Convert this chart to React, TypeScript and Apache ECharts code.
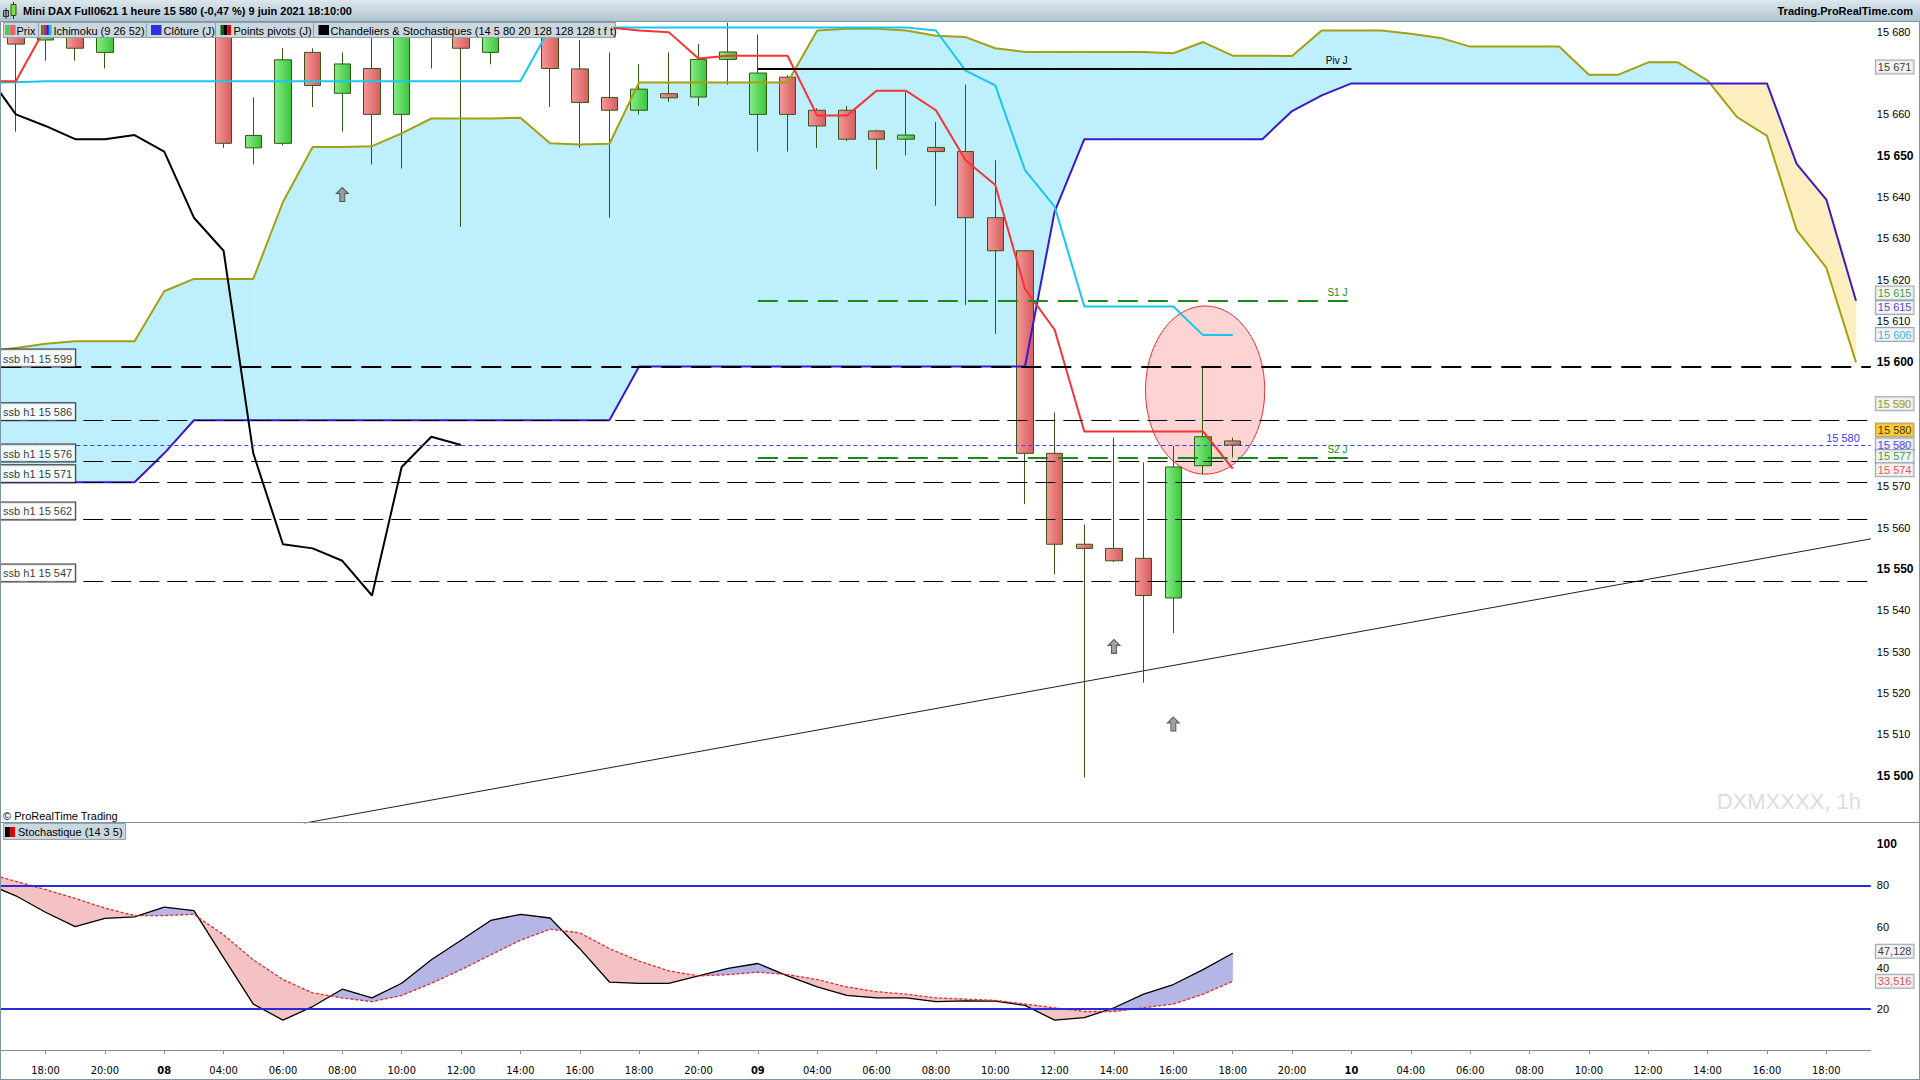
import React, { useEffect, useRef } from 'react';
import * as echarts from 'echarts';

// ---------- categories (hourly bars) ----------
const DAYS = ['07', '08', '09', '10'];
const DAY_HOURS = [
  [16, 17, 18, 19, 20, 21],
  [2, 3, 4, 5, 6, 7, 8, 9, 10, 11, 12, 13, 14, 15, 16, 17, 18, 19, 20, 21],
  [2, 3, 4, 5, 6, 7, 8, 9, 10, 11, 12, 13, 14, 15, 16, 17, 18, 19, 20, 21],
  [2, 3, 4, 5, 6, 7, 8, 9, 10, 11, 12, 13, 14, 15, 16, 17, 18, 19],
];
const CATEGORIES: string[] = [];
DAYS.forEach((d, k) => DAY_HOURS[k].forEach((h) => CATEGORIES.push(`${d} ${String(h).padStart(2, '0')}:00`)));

// ---------- candles [open, close, low, high], from bar index 1 ----------
const CANDLES: number[][] = [
  [15690, 15677, 15655.8, 15694],
  [15678, 15688, 15673, 15692],
  [15690, 15676, 15673, 15693],
  [15675, 15690, 15671.1, 15695],
  [15692, 15697, 15686, 15700],
  [15697, 15693, 15687, 15702],
  [15693, 15688, 15684, 15698],
  [15688, 15653, 15651.9, 15690],
  [15651.9, 15654.9, 15647.9, 15664.1],
  [15653, 15673.2, 15652.5, 15676],
  [15675, 15667, 15661.8, 15676],
  [15665.1, 15672.2, 15655.8, 15675],
  [15671.1, 15660, 15647.9, 15679],
  [15660, 15681, 15646.9, 15684],
  [15686, 15680, 15671.1, 15690],
  [15682, 15676, 15632.8, 15685],
  [15675, 15681, 15672.1, 15684],
  [15681, 15685, 15679.5, 15688],
  [15683, 15671.1, 15661.8, 15686],
  [15671, 15662.9, 15651.9, 15678],
  [15664.1, 15661, 15635, 15675],
  [15661, 15666.1, 15660, 15672.2],
  [15665, 15664, 15663, 15675],
  [15664.2, 15673.3, 15662, 15677],
  [15673.3, 15675.1, 15667.2, 15682.2],
  [15660, 15670, 15651, 15679.3],
  [15669, 15660, 15651, 15669.5],
  [15661, 15657.2, 15651.9, 15661.5],
  [15661, 15654, 15653.5, 15662],
  [15656, 15654, 15646.7, 15656.3],
  [15654, 15655, 15650.1, 15665.4],
  [15652, 15651, 15637.9, 15658.2],
  [15651, 15635, 15613.9, 15667.2],
  [15635, 15627, 15606.9, 15648.9],
  [15627, 15578, 15565.7, 15627.2],
  [15578, 15556, 15548.7, 15587.9],
  [15556, 15555, 15499.6, 15560.7],
  [15555, 15552, 15551.7, 15581.8],
  [15552.6, 15543.6, 15522.5, 15575.8],
  [15543, 15574.7, 15534.5, 15579.8],
  [15575, 15582, 15572.9, 15598.8],
  [15581, 15580, 15577, 15581.8],
];

// ---------- Ichimoku (9 26 52), from bar index 0 ----------
const TENKAN = [
  15668, 15668,
  15681, 15681, 15681, 15681, 15681, 15681, 15681, 15681, 15681, 15681,
  15681, 15681, 15681, 15681, 15681, 15681, 15681, 15681, 15681, 15681,
  15680.3, 15679.9, 15673.5, 15674.2, 15674.2, 15674.2, 15659.7, 15659.7, 15665.7, 15665.7,
  15661, 15648.9, 15642.9, 15617.8, 15607.9, 15583.3, 15583.3, 15583.3, 15583.3, 15583.3, 15574.3,
];
const KIJUN = [
  15667.6, 15667.8, 15668, 15668, 15668, 15668, 15668, 15668, 15668, 15668,
  15668, 15668, 15668, 15668, 15668, 15668, 15668, 15668, 15668,
  15681, 15681, 15681, 15681, 15681, 15681, 15681, 15681, 15681, 15681, 15681, 15681, 15681,
  15680.3, 15670.6, 15667, 15646.5, 15637.7, 15613.5, 15613.5, 15613.5, 15613.5, 15606.6, 15606.6,
];
const SSA = [
  15602.5, 15603.5, 15604.5, 15605.1, 15605.1, 15605.1, 15617.2, 15620.2, 15620.2, 15620.2,
  15638.8, 15652.1, 15652.1, 15652.3, 15655.4, 15659, 15659, 15659, 15659.2, 15653,
  15652.7, 15652.9, 15667.7, 15667.7, 15667.7, 15667.7, 15667.7, 15667.7, 15680.3, 15680.7,
  15680.7, 15680.3, 15679, 15678.7, 15676, 15675.1, 15675.1, 15675.1, 15675.1, 15675.1,
  15674.8, 15677.5, 15674.2, 15674.2, 15674.1, 15680.3, 15680.3, 15680.3, 15679.5, 15678.5,
  15676.4, 15676.4, 15676.4, 15676.4, 15669.6, 15669.6, 15672.6, 15672.6, 15668.2, 15659.3,
  15654.8, 15632, 15622.9, 15600,
];
const SSB = [
  15571, 15571, 15571, 15571, 15571, 15571, 15578,
  15586, 15586, 15586, 15586, 15586, 15586, 15586, 15586, 15586, 15586, 15586, 15586, 15586, 15586, 15586,
  15599, 15599, 15599, 15599, 15599, 15599, 15599, 15599, 15599, 15599, 15599, 15599, 15599, 15599,
  15636.5, 15654, 15654, 15654, 15654, 15654, 15654, 15654, 15660.8, 15664.6,
  15667.5, 15667.5, 15667.5, 15667.5, 15667.5, 15667.5, 15667.5, 15667.5, 15667.5, 15667.5,
  15667.5, 15667.5, 15667.5, 15667.5, 15667.5,
  15648, 15639.4, 15614.9,
];
const CHIKOU = [
  15670, 15660, 15657.2, 15654, 15654, 15655, 15651, 15635, 15627, 15578,
  15556, 15555, 15552, 15543.6, 15574.7, 15582, 15580,
];

// ---------- levels ----------
const SSB_LEVELS = [15599, 15586, 15576, 15571, 15562, 15547];
const DAILY_CLOSE = 15580;
const PIVOTS = [
  { name: 'Piv J', value: 15671, color: '#000000', dashed: false },
  { name: 'S1 J', value: 15615, color: '#1a8a1a', dashed: true },
  { name: 'S2 J', value: 15577, color: '#1a8a1a', dashed: true },
];
const PIVOT_RANGE = [26, 46];
const TREND_LINE = [[10.7, 15488.5], [63.5, 15557.3]];
const ARROWS = [[12, 15640.6], [38, 15531.3], [40, 15512.5]];
const HIGHLIGHT = { center: [41.07, 15593.3], rx: 2.01, ry: 20.35 };

const RIGHT_TAGS = [
  { value: 15671, color: '#000000', bg: '#f0f0f0', dy: -2 },
  { value: 15615, color: '#0a8a0a', bg: '#f0f0f0', dy: -7.5 },
  { value: 15615, color: '#2a10c8', bg: '#f0f0f0', dy: 7 },
  { value: 15606, color: '#00a0e0', bg: '#f0f0f0', dy: -3 },
  { value: 15590, color: '#9a9a00', bg: '#f0f0f0', dy: 0 },
  { value: 15580, color: '#000000', bg: '#ffc000', dy: -15 },
  { value: 15580, color: '#3030ff', bg: '#f0f0f0', dy: 0 },
  { value: 15577, color: '#0a8a0a', bg: '#f0f0f0', dy: -1 },
  { value: 15574, color: '#ff2020', bg: '#f0f0f0', dy: 0 },
];
// axis labels hidden by the tag boxes in the reference
const COVERED_LABELS = [15670];

// ---------- stochastic (14 3 5), from bar index 0 ----------
const STOCH_K = [
  81, 75, 67, 60, 64, 64.8, 69.5, 67.8, 45, 22.4,
  14.6, 21.2, 29.6, 25.4, 32.5, 43.9, 53.4, 63, 66, 64.2,
  49.3, 33.1, 32.5, 32.5, 36.1, 39.7, 42.1, 36.1, 30.7, 26.6,
  25.4, 25.4, 23.6, 24.0, 23.8, 21.8, 14.6, 15.8, 20.6, 27.2,
  31.9, 39.1, 47.1,
];
const STOCH_D = [
  86, 82, 78, 73.7, 69, 65.4, 65.4, 66, 56, 43.9,
  34.3, 27.8, 25.4, 23.6, 26.6, 32.5, 39.1, 46.3, 53.4, 58.8,
  57, 49.3, 43.3, 38.5, 36.1, 36.7, 37.9, 36.7, 34.3, 30.7,
  28.4, 27.2, 25.4, 24.8, 24.2, 22.4, 20.6, 18.8, 18.8, 20.6,
  22.4, 27.2, 33.5,
];
const STOCH_LEVELS = [80, 20];
const STOCH_TAGS = [
  { value: 47.128, text: '47,128', color: '#000000', dy: -2 },
  { value: 33.516, text: '33,516', color: '#e02020', dy: 0 },
];

// ---------- layout ----------
const N = CATEGORIES.length;
const BAND = 29.68;
const GRID_LEFT = 1 - BAND;
const GRID_WIDTH = N * BAND;
const PRICE_MAX = 15682.35;
const PRICE_MIN = 15488.56;
const STOCH_MAX = 110.35;
const STOCH_MIN = -4.28;
const FONT = "'Liberation Sans', Arial, Helvetica, sans-serif";
const NARROW = "'Liberation Sans Narrow', 'DejaVu Sans Condensed', 'Liberation Sans', sans-serif";
const FRAME = '#7f93a3';

const fmtK = (n: number) => {
  const r = Math.round(n);
  const k = Math.floor(r / 1000);
  return `${k} ${String(r - k * 1000).padStart(3, '0')}`;
};

const pad = (arr: (number | null)[], start: number) => {
  const out: (number | null)[] = [];
  for (let j = 0; j < N; j++) {
    const v = arr[j - start];
    out.push(v === undefined ? null : v);
  }
  return out;
};

function bandRenderer(up: string, down: string) {
  return (params: any, api: any) => {
    const j = api.value(0);
    const a0 = api.value(1), b0 = api.value(2), a1 = api.value(3), b1 = api.value(4);
    const pa0 = api.coord([j, a0]);
    const pb0 = api.coord([j, b0]);
    const pa1 = api.coord([j + 1, a1]);
    const pb1 = api.coord([j + 1, b1]);
    const d0 = a0 - b0;
    const d1 = a1 - b1;
    const poly = (pts: number[][], isUp: boolean) => ({
      type: 'polygon',
      shape: { points: pts },
      style: { fill: isUp ? up : down, stroke: isUp ? up : down, lineWidth: 0.6 },
    });
    const children: any[] = [];
    if (d0 * d1 >= 0) {
      children.push(poly([pa0, pa1, pb1, pb0], d0 + d1 >= 0));
    } else {
      const t = d0 / (d0 - d1);
      const pc = [pa0[0] + t * (pa1[0] - pa0[0]), pa0[1] + t * (pa1[1] - pa0[1])];
      children.push(poly([pa0, pc, pb0], d0 > 0));
      children.push(poly([pc, pa1, pb1], d1 > 0));
    }
    return { type: 'group', children };
  };
}

function pairData(a: (number | null)[], b: (number | null)[]) {
  const out: number[][] = [];
  for (let j = 0; j < Math.min(a.length, b.length) - 1; j++) {
    if (a[j] == null || b[j] == null || a[j + 1] == null || b[j + 1] == null) continue;
    out.push([j, a[j] as number, b[j] as number, a[j + 1] as number, b[j + 1] as number]);
  }
  return out;
}

function buildOption() {
  const candleData = pad(CANDLES as any, 1).map((c: any) => (c ? c : '-'));
  const hourOf = (v: string) => parseInt(v.split(' ')[1], 10);
  const showCat = (idx: number, v: string) => idx > 0 && hourOf(v) % 2 === 0;

  const gradBull = {
    type: 'linear', x: 0, y: 0, x2: 1, y2: 0,
    colorStops: [{ offset: 0, color: '#86ec86' }, { offset: 1, color: '#3cc53c' }],
  };
  const gradBear = {
    type: 'linear', x: 0, y: 0, x2: 1, y2: 0,
    colorStops: [{ offset: 0, color: '#f59898' }, { offset: 1, color: '#d65e5e' }],
  };

  const lineSeries = (name: string, data: any[], color: string, width = 2) => ({
    type: 'line', name, xAxisIndex: 0, yAxisIndex: 0, data, symbol: 'none', z: 4,
    lineStyle: { color, width }, itemStyle: { color }, connectNulls: false, clip: true, silent: true,
  });

  const tagLabelBase = {
    show: true, fontSize: 11, fontFamily: FONT, lineHeight: 12, padding: [1, 2, 0, 2],
    borderColor: FRAME, borderWidth: 1,
  };

  const legendItems = [
    { x: 3, w: 35, iconX: 5, textX: 16.5, text: 'Prix', icons: ['#52cc52', '#e26464'] },
    { x: 38, w: 108, iconX: 41, textX: 53.5, text: 'Ichimoku (9 26 52)', icons: ['#7a6a10', '#e02020', '#2020e0', '#10b8e8'] },
    { x: 146, w: 69, iconX: 151, textX: 163.5, text: 'Clôture (J)', icons: ['#3030e0'] },
    { x: 215, w: 98, iconX: 220.5, textX: 233.5, text: 'Points pivots (J)', icons: ['#106010', '#000000', '#e00000'] },
    { x: 313, w: 302, iconX: 318.5, textX: 330.5, text: 'Chandeliers & Stochastiques (14 5 80 20 128 128 128 t f t)', icons: ['#000000'] },
  ];

  const graphic: any[] = [];
  // title bar
  graphic.push({
    type: 'rect', z: 100, shape: { x: 0, y: 0, width: 1920, height: 21 },
    style: { fill: new echarts.graphic.LinearGradient(0, 0, 0, 1, [{ offset: 0, color: '#dce7ed' }, { offset: 1, color: '#b0c5d1' }]) },
  });
  graphic.push({ type: 'line', z: 101, shape: { x1: 0, y1: 21.5, x2: 1920, y2: 21.5 }, style: { stroke: FRAME, lineWidth: 1 } });
  graphic.push({ type: 'rect', z: 101, shape: { x: 3.5, y: 10.5, width: 5, height: 6 }, style: { fill: '#9aa4aa', stroke: '#303030', lineWidth: 1 } });
  graphic.push({ type: 'line', z: 101, shape: { x1: 6, y1: 8, x2: 6, y2: 19 }, style: { stroke: '#303030', lineWidth: 1 } });
  graphic.push({ type: 'line', z: 101, shape: { x1: 13.5, y1: 2, x2: 13.5, y2: 19 }, style: { stroke: '#303030', lineWidth: 1 } });
  graphic.push({ type: 'rect', z: 102, shape: { x: 11, y: 4.5, width: 5, height: 11 }, style: { fill: '#7fe03c', stroke: '#305010', lineWidth: 1 } });
  graphic.push({
    type: 'text', z: 102,
    style: {
      text: 'Mini DAX Full0621 1 heure 15 580 (-0,47 %) 9 juin 2021 18:10:00', x: 23, y: 11,
      font: `bold 11px ${FONT}`, fill: '#000', textVerticalAlign: 'middle', verticalAlign: 'middle',
    },
  });
  graphic.push({
    type: 'text', z: 102,
    style: {
      text: 'Trading.ProRealTime.com', x: 1913, y: 11, font: `bold 11px ${FONT}`, fill: '#000',
      textAlign: 'right', align: 'right', textVerticalAlign: 'middle', verticalAlign: 'middle',
    },
  });
  // legend row
  legendItems.forEach((it) => {
    graphic.push({
      type: 'rect', z: 100, shape: { x: it.x + 0.5, y: 22.5, width: it.w, height: 15 },
      style: { fill: '#cbd7de', stroke: '#8fa2ae', lineWidth: 1 },
    });
    const sw = 10.5 / it.icons.length;
    it.icons.forEach((c, k) => {
      graphic.push({ type: 'rect', z: 101, shape: { x: it.iconX + k * sw, y: 25, width: sw, height: 10 }, style: { fill: c } });
    });
    graphic.push({
      type: 'text', z: 102,
      style: { text: it.text, x: it.textX, y: 30.5, font: `11px ${FONT}`, fill: '#000', textVerticalAlign: 'middle', verticalAlign: 'middle' },
    });
  });
  // copyright, stochastic legend, watermark
  graphic.push({
    type: 'text', z: 102,
    style: { text: '© ProRealTime Trading', x: 3, y: 816, font: `11px ${FONT}`, fill: '#000', textVerticalAlign: 'middle', verticalAlign: 'middle' },
  });
  graphic.push({
    type: 'text', z: 99,
    style: {
      text: 'DXMXXXX, 1h', x: 1861, y: 812, font: `22px ${FONT}`, fill: '#d6dee6',
      textAlign: 'right', align: 'right', textVerticalAlign: 'bottom', verticalAlign: 'bottom',
    },
  });
  graphic.push({ type: 'rect', z: 100, shape: { x: 3.5, y: 823.5, width: 122, height: 16 }, style: { fill: '#cbd7de', stroke: '#8fa2ae', lineWidth: 1 } });
  graphic.push({ type: 'rect', z: 101, shape: { x: 5, y: 827, width: 5, height: 10 }, style: { fill: '#000' } });
  graphic.push({ type: 'rect', z: 101, shape: { x: 10, y: 827, width: 5, height: 10 }, style: { fill: '#e00000' } });
  graphic.push({
    type: 'text', z: 102,
    style: { text: 'Stochastique (14 3 5)', x: 18, y: 832, font: `11px ${FONT}`, fill: '#000', textVerticalAlign: 'middle', verticalAlign: 'middle' },
  });
  // frame
  graphic.push({ type: 'line', z: 103, shape: { x1: 0, y1: 822.5, x2: 1920, y2: 822.5 }, style: { stroke: FRAME, lineWidth: 1 } });
  graphic.push({ type: 'line', z: 103, shape: { x1: 0.5, y1: 21, x2: 0.5, y2: 1080 }, style: { stroke: FRAME, lineWidth: 1 } });
  graphic.push({ type: 'line', z: 103, shape: { x1: 1919.5, y1: 21, x2: 1919.5, y2: 1080 }, style: { stroke: FRAME, lineWidth: 1 } });
  graphic.push({ type: 'line', z: 103, shape: { x1: 0, y1: 1079.5, x2: 1920, y2: 1079.5 }, style: { stroke: FRAME, lineWidth: 1 } });

  const markLineData: any[] = [];
  SSB_LEVELS.forEach((lvl, k) => {
    markLineData.push({
      yAxis: lvl,
      lineStyle: { color: '#000', width: k === 0 ? 2 : 1, type: k === 0 ? [20, 10] : [20, 8] },
      label: { show: false },
    });
  });
  markLineData.push({
    yAxis: DAILY_CLOSE,
    lineStyle: { color: '#3c3cf0', width: 1, type: [4, 3] },
    label: { show: true, position: 'insideEndTop', formatter: fmtK(DAILY_CLOSE), color: '#3c3cf0', fontSize: 11, fontFamily: FONT, distance: [11, 2] },
  });
  PIVOTS.forEach((p) => {
    markLineData.push([
      {
        coord: [PIVOT_RANGE[0], p.value],
        lineStyle: { color: p.color, width: 2, type: p.dashed ? [20, 10] : 'solid' },
        label: { show: true, position: 'insideEndTop', formatter: p.name, color: p.color, fontSize: 10, fontFamily: FONT, distance: [4, 3] },
      },
      { coord: [PIVOT_RANGE[1], p.value] },
    ]);
  });

  return {
    animation: false,
    backgroundColor: '#ffffff',
    textStyle: { fontFamily: FONT },
    grid: [
      { left: GRID_LEFT, top: 22, width: GRID_WIDTH, height: 801, outerBoundsMode: 'none', containLabel: false },
      { left: GRID_LEFT, top: 823, width: GRID_WIDTH, height: 236, outerBoundsMode: 'none', containLabel: false },
    ],
    xAxis: [
      { type: 'category', gridIndex: 0, data: CATEGORIES, boundaryGap: true, show: false },
      {
        type: 'category', gridIndex: 1, data: CATEGORIES, boundaryGap: true,
        axisLine: { show: true, lineStyle: { color: FRAME, width: 1 } },
        axisTick: { show: true, interval: showCat, alignWithLabel: true, length: 4, lineStyle: { color: FRAME } },
        axisLabel: {
          interval: showCat, margin: 6, fontSize: 11, fontFamily: NARROW, color: '#000',
          formatter: (v: string) => {
            const h = hourOf(v);
            if (h === 2) return `{d|${v.split(' ')[0]}}`;
            return h % 2 === 0 ? v.split(' ')[1] : '';
          },
          rich: { d: { fontWeight: 'bold', fontSize: 11, fontFamily: NARROW } },
        },
        splitLine: { show: false },
      },
      { type: 'value', gridIndex: 0, min: -0.5, max: N - 0.5, show: false },
      { type: 'value', gridIndex: 1, min: -0.5, max: N - 0.5, show: false },
    ],
    yAxis: [
      {
        type: 'value', gridIndex: 0, position: 'right', min: PRICE_MIN, max: PRICE_MAX, splitNumber: 19,
        splitLine: { show: false },
        axisLine: { show: true, lineStyle: { color: FRAME, width: 1 } },
        axisTick: { show: true, length: 4, lineStyle: { color: FRAME } },
        axisLabel: {
          margin: 6, fontSize: 11, color: '#000', fontFamily: FONT,
          formatter: (v: number) => {
            const r = Math.round(v);
            if (Math.abs(v - r) > 0.01 || r % 10 !== 0 || r < 15500 || COVERED_LABELS.includes(r)) return '';
            return r % 50 === 0 ? `{b|${fmtK(r)}}` : fmtK(r);
          },
          rich: { b: { fontWeight: 'bold', fontSize: 12, fontFamily: FONT } },
        },
      },
      {
        type: 'value', gridIndex: 1, position: 'right', min: STOCH_MIN, max: STOCH_MAX, splitNumber: 11,
        splitLine: { show: false },
        axisLine: { show: true, lineStyle: { color: FRAME, width: 1 } },
        axisTick: { show: true, length: 4, lineStyle: { color: FRAME } },
        axisLabel: {
          margin: 6, fontSize: 11, color: '#000', fontFamily: FONT,
          formatter: (v: number) => {
            const r = Math.round(v);
            if (Math.abs(v - r) > 0.01 || r % 20 !== 0 || r <= 0) return '';
            return r === 100 ? `{b|100}` : String(r);
          },
          rich: { b: { fontWeight: 'bold', fontSize: 12, fontFamily: FONT } },
        },
      },
    ],
    series: [
      {
        type: 'custom', name: 'cloud', xAxisIndex: 0, yAxisIndex: 0, z: 1, clip: true, silent: true,
        renderItem: bandRenderer('#bdf0fc', '#fdeebf'),
        encode: { x: 0, y: [1, 2] },
        data: pairData(SSA, SSB),
      },
      {
        type: 'line', name: 'levels', xAxisIndex: 2, yAxisIndex: 0, z: 2, data: TREND_LINE, symbol: 'none',
        lineStyle: { color: '#202020', width: 1 }, clip: true, silent: true,
        markLine: { silent: true, symbol: ['none', 'none'], animation: false, label: { show: false }, data: markLineData },
      },
      {
        type: 'custom', name: 'highlight', xAxisIndex: 2, yAxisIndex: 0, z: 2, clip: false, silent: true,
        renderItem: (params: any, api: any) => {
          const c = api.coord([api.value(0), api.value(1)]);
          const sx = api.size([api.value(2), 0])[0];
          const sy = api.size([0, api.value(3)])[1];
          return {
            type: 'ellipse', shape: { cx: c[0], cy: c[1], rx: sx, ry: sy },
            style: { fill: 'rgba(250,110,110,0.30)', stroke: '#f03030', lineWidth: 1 },
          };
        },
        data: [[HIGHLIGHT.center[0], HIGHLIGHT.center[1], HIGHLIGHT.rx, HIGHLIGHT.ry]],
      },
      {
        type: 'candlestick', name: 'Prix', xAxisIndex: 0, yAxisIndex: 0, z: 3, barWidth: 17, clip: true, silent: true,
        data: candleData,
        itemStyle: { color: gradBull, color0: gradBear, borderColor: '#2f5a14', borderColor0: '#3a5418', borderWidth: 1 },
      },
      lineSeries('SSA', pad(SSA, 0), '#a3a012'),
      lineSeries('SSB', pad(SSB, 0), '#3b18cc'),
      lineSeries('Kijun', pad(KIJUN, 0), '#18c6f2'),
      lineSeries('Tenkan', pad(TENKAN, 0), '#f43434'),
      lineSeries('Chikou', pad(CHIKOU, 0), '#000000'),
      {
        type: 'scatter', name: 'arrows', xAxisIndex: 0, yAxisIndex: 0, z: 5, silent: true,
        symbol: 'path://M6,0L12,6L8.5,6L8.5,14L3.5,14L3.5,6L0,6Z', symbolSize: [12, 14],
        itemStyle: { color: '#8a8a8a', borderColor: '#3a3a3a', borderWidth: 1 },
        data: ARROWS,
      },
      {
        type: 'scatter', name: 'ssbTags', xAxisIndex: 2, yAxisIndex: 0, z: 6, clip: false, silent: true,
        symbolSize: 0, itemStyle: { color: 'transparent' },
        data: SSB_LEVELS.map((lvl) => ({ value: [0.47, lvl], name: `ssb h1 ${fmtK(lvl)}` })),
        label: {
          show: true, position: [0, 0], align: 'left', verticalAlign: 'bottom', formatter: '{b}',
          fontSize: 11, fontFamily: FONT, color: '#000', lineHeight: 12, padding: [3, 3, 2, 3],
          backgroundColor: '#ffffff', borderColor: '#000000', borderWidth: 1,
        },
      },
      {
        type: 'scatter', name: 'axisTags', xAxisIndex: 2, yAxisIndex: 0, z: 6, clip: false, silent: true,
        symbolSize: 0, itemStyle: { color: 'transparent' },
        data: RIGHT_TAGS.map((t) => ({
          value: [N - 0.5, t.value], name: fmtK(t.value),
          label: { ...tagLabelBase, position: 'right', distance: 5, formatter: '{b}', color: t.color, backgroundColor: t.bg, offset: [0, t.dy] },
        })),
        label: { ...tagLabelBase, position: 'right', distance: 5, formatter: '{b}' },
      },
      // stochastic panel
      {
        type: 'custom', name: 'stochFill', xAxisIndex: 1, yAxisIndex: 1, z: 1, clip: true, silent: true,
        renderItem: bandRenderer('#b6b6e6', '#f4c2c2'),
        encode: { x: 0, y: [1, 2] },
        data: pairData(STOCH_K, STOCH_D),
      },
      {
        type: 'line', name: 'K', xAxisIndex: 1, yAxisIndex: 1, z: 3, data: pad(STOCH_K, 0), symbol: 'none', silent: true,
        lineStyle: { color: '#000', width: 1.3 }, clip: true,
        markLine: {
          silent: true, symbol: ['none', 'none'], animation: false, label: { show: false },
          lineStyle: { color: '#2a2ad8', width: 2, type: 'solid' },
          data: STOCH_LEVELS.map((v) => ({ yAxis: v })),
        },
      },
      {
        type: 'line', name: 'D', xAxisIndex: 1, yAxisIndex: 1, z: 3, data: pad(STOCH_D, 0), symbol: 'none', silent: true,
        lineStyle: { color: '#e62a2a', width: 1.3, type: [3, 2] }, clip: true,
      },
      {
        type: 'scatter', name: 'stochTags', xAxisIndex: 3, yAxisIndex: 1, z: 6, clip: false, silent: true,
        symbolSize: 0, itemStyle: { color: 'transparent' },
        data: STOCH_TAGS.map((t) => ({
          value: [N - 0.5, t.value], name: t.text,
          label: { ...tagLabelBase, position: 'right', distance: 5, formatter: '{b}', color: t.color, backgroundColor: '#f0f0f0', offset: [0, t.dy] },
        })),
        label: { ...tagLabelBase, position: 'right', distance: 5, formatter: '{b}' },
      },
    ],
    graphic,
  };
}

export default function App() {
  const ref = useRef<HTMLDivElement>(null);
  useEffect(() => {
    if (!ref.current) return;
    const chart = echarts.init(ref.current, null, { renderer: 'svg' });
    chart.setOption(buildOption() as any);
    return () => chart.dispose();
  }, []);
  return (
    <div
      ref={ref}
      style={{ position: 'fixed', left: 0, top: 0, width: 1920, height: 1080, background: '#ffffff' }}
    />
  );
}
